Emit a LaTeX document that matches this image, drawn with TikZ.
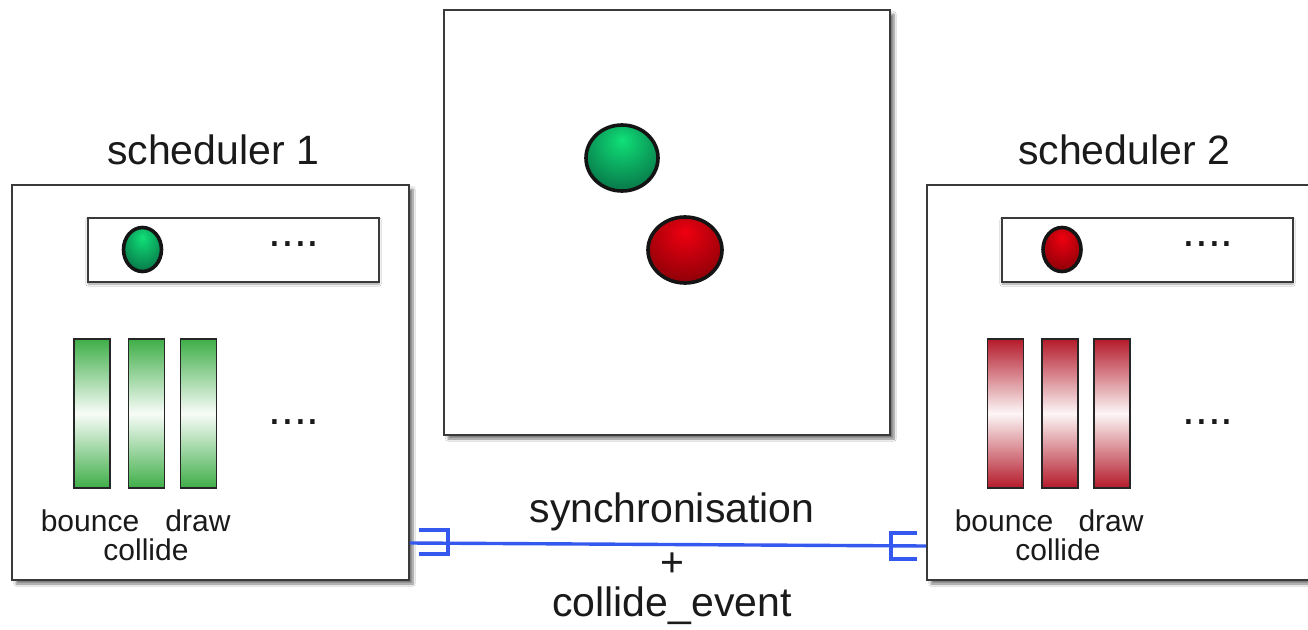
\documentclass[tikz,border=0pt]{standalone}
\usepackage{fontspec}
\setmainfont{Liberation Sans}
\usetikzlibrary{shadows.blur,calc,shapes.geometric}

\definecolor{txt}{HTML}{1A1A1A}
\definecolor{frame}{HTML}{3A3A3A}
\definecolor{linkblue}{HTML}{3558EE}
\definecolor{gbar}{HTML}{3FAE48}
\definecolor{rbar}{HTML}{B41A2A}
\definecolor{gHi}{HTML}{10E078}
\definecolor{gLo}{HTML}{05573A}
\definecolor{rHi}{HTML}{F00010}
\definecolor{rLo}{HTML}{5A0004}

\pgfdeclareradialshading{greenball}{\pgfpoint{0bp}{14bp}}{color(0bp)=(gHi); color(30bp)=(gLo!70!gHi); color(55bp)=(gLo); color(70bp)=(gLo)}
\pgfdeclareradialshading{redball}{\pgfpoint{0bp}{14bp}}{color(0bp)=(rHi); color(30bp)=(rLo!60!rHi); color(55bp)=(rLo); color(70bp)=(rLo)}

\tikzset{
  panel/.style={draw=frame, line width=1.8pt, fill=white, inner sep=0pt,
    blur shadow={shadow xshift=4pt, shadow yshift=-4pt, shadow blur steps=8, shadow opacity=50}},
  tray/.style={draw=frame, line width=1.8pt, fill=white, inner sep=0pt,
    minimum width=291pt, minimum height=64pt,
    blur shadow={shadow xshift=0pt, shadow yshift=-2pt, shadow blur steps=4, shadow opacity=40}},
  taskbar/.style={draw=black!85, line width=1.8pt, inner sep=0pt,
    minimum width=36pt, minimum height=149pt},
  gtask/.style={taskbar, top color=gbar, bottom color=gbar, middle color=gbar!4},
  rtask/.style={taskbar, top color=rbar, bottom color=rbar, middle color=rbar!4},
  ball/.style={ellipse, draw=black!92, line width=3.6pt, inner sep=0pt},
  gball/.style={ball, shading=greenball},
  rball/.style={ball, shading=redball},
  title/.style={text=txt, font=\fontsize{41}{48}\selectfont},
  small/.style={text=txt, font=\fontsize{30}{36}\selectfont, inner sep=0pt},
  dots/.style={text=txt, font=\fontsize{46}{50}\selectfont, inner sep=0pt},
  link/.style={draw=linkblue, line width=3.4pt},
}

\begin{document}
\begin{tikzpicture}[x=1pt,y=-1pt]
\clip (0,0) rectangle (1308,629);
\fill[white] (0,0) rectangle (1308,629);

% shared world
\node[panel, minimum width=446pt, minimum height=425pt] (world) at (667,222.5) {};
\node[gball, minimum width=72pt, minimum height=66pt] (wg) at (622,158) {};
\node[rball, minimum width=74pt, minimum height=66pt] (wr) at (685,250) {};

% scheduler 1
\node[title] (t1) at (213,150) {scheduler 1};
\node[panel, minimum width=397pt, minimum height=395pt] (lb) at (210.5,382.5) {};
\node[tray] (lq) at (233.5,250) {};
\node[gball, minimum width=38pt, minimum height=44pt] (lqb) at (142.5,249.5) {};
\node[dots] (lqd) at (294,244) {....};
\node[gtask] (lt1) at (92,413.5) {};
\node[gtask] (lt2) at (146.5,413.5) {};
\node[gtask] (lt3) at (198.5,413.5) {};
\node[dots] (ltd) at (294,422) {....};
\node[small, anchor=base] (lbn) at (90,531) {bounce};
\node[small, anchor=base] (ldr) at (198,531) {draw};
\node[small, anchor=base] (lco) at (146,560) {collide};

% scheduler 2
\node[title] (t2) at (1124,150) {scheduler 2};
\node[panel, minimum width=397pt, minimum height=395pt] (rb) at (1125.5,382.5) {};
\node[tray] (rq) at (1147.5,250) {};
\node[rball, minimum width=38pt, minimum height=44pt] (rqb) at (1062,249.5) {};
\node[dots] (rqd) at (1208,244) {....};
\node[rtask] (rt1) at (1005.5,413.5) {};
\node[rtask] (rt2) at (1060,413.5) {};
\node[rtask] (rt3) at (1112,413.5) {};
\node[dots] (rtd) at (1208,422) {....};
\node[small, anchor=base] (rbn) at (1004,531) {bounce};
\node[small, anchor=base] (rdr) at (1111,531) {draw};
\node[small, anchor=base] (rco) at (1058,560) {collide};

% synchronisation link between the schedulers
\coordinate (sL) at (lb.east |- 0,543);
\coordinate (sR) at (rb.west |- 0,546);
\draw[link] (sL) -- (sR);
\draw[link] ($(sL)+(9,-13)$) -- ($(sL)+(38,-13)$) -- ($(sL)+(38,11)$) -- ($(sL)+(9,11)$);
\draw[link] ($(sR)+(-9,-13)$) -- ($(sR)+(-35,-13)$) -- ($(sR)+(-35,13)$) -- ($(sR)+(-9,13)$);

\node[title] (sync) at (672,512) {synchronisation};
\node[title] (plus) at (672,565) {+};
\node[title] (cev) at (672,606) {collide\_event};
\end{tikzpicture}
\end{document}
